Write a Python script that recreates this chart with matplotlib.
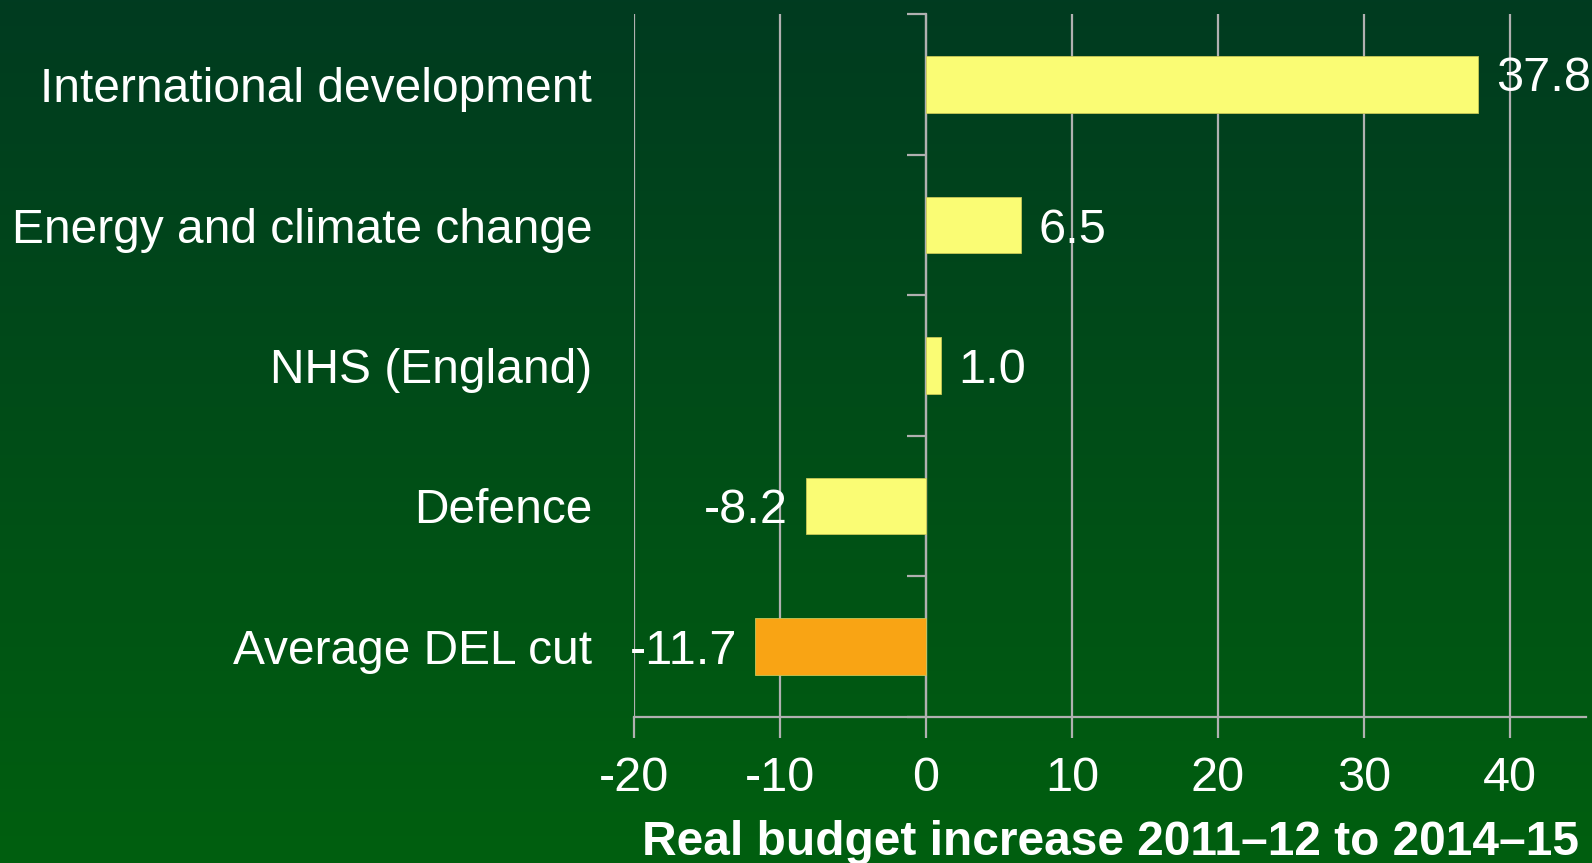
import numpy as np
import matplotlib.pyplot as plt

plt.rcParams['font.family'] = ['Liberation Sans', 'DejaVu Sans']

# Data
categories = ['International development', 'Energy and climate change',
              'NHS (England)', 'Defence', 'Average DEL cut']
values = [37.8, 6.5, 1.0, -8.2, -11.7]
bar_colors = ['#fafc74', '#fafc74', '#fafc74', '#fafc74', '#f9a414']
xticks = [-20, -10, 0, 10, 20, 30, 40]

grid_col = '#b0b0b0'

fig = plt.figure(figsize=(15.92, 8.63), dpi=100)

# Background gradient, dark green at the top to lighter green at the bottom
bg = fig.add_axes([0, 0, 1, 1], zorder=-1)
top = np.array([0, 59, 32]) / 255.0
bot = np.array([0, 95, 15]) / 255.0
t = np.linspace(0, 1, 256)[:, None]
grad = (top * (1 - t) + bot * t)[:, None, :]
bg.imshow(grad, aspect='auto', extent=[0, 1, 0, 1])
bg.axis('off')

ax = fig.add_axes([634 / 1592, 146.3 / 863, (1585.7 - 634) / 1592, (848.7 - 146.3) / 863])
ax.patch.set_alpha(0)

y = np.arange(len(categories))
bars = ax.barh(y, values, height=0.4, color=bar_colors, edgecolor='#c8c858',
               linewidth=0.6, zorder=3)

ax.set_xlim(-20, 45.2)
ax.set_ylim(len(categories) - 0.5, -0.5)
ax.set_xticks(xticks)
ax.set_xticklabels([str(v) for v in xticks])
ax.set_yticks(y)
ax.set_yticklabels(categories)

ax.grid(axis='x', color=grid_col, linewidth=1.6, zorder=0)
ax.tick_params(axis='x', colors=grid_col, length=15, width=1.6, labelcolor='white',
               labelsize=35, pad=13)
ax.tick_params(axis='y', length=0, labelcolor='white', labelsize=34.5, pad=30)

for s in ['top', 'right', 'left']:
    ax.spines[s].set_visible(False)
ax.spines['bottom'].set_color(grid_col)
ax.spines['bottom'].set_linewidth(1.6)

# Zero axis with ticks between the categories
x0, x1 = ax.get_xlim()
zax = ax.secondary_yaxis((0 - x0) / (x1 - x0))
zax.set_yticks(np.arange(-0.5, len(categories), 1.0))
zax.set_yticklabels([])
zax.tick_params(colors=grid_col, length=14, width=1.6)
zax.spines['left'].set_color(grid_col)
zax.spines['left'].set_linewidth(1.6)

labels = ax.bar_label(bars, labels=['%.1f' % v for v in values], padding=13,
                      color='white', fontsize=35, zorder=4)
for lab in labels:
    lab.set_va('center_baseline')
# the top label sits a bit higher in the original
labels[0].xyann = (13, 8)

ax.set_xlabel('Real budget increase 2011\u201312 to 2014\u201315', loc='right',
              color='white', fontsize=34.5, fontweight='bold', labelpad=14)
ax.xaxis.label.set_x(0.993)

fig.savefig('out.png', dpi=100)
